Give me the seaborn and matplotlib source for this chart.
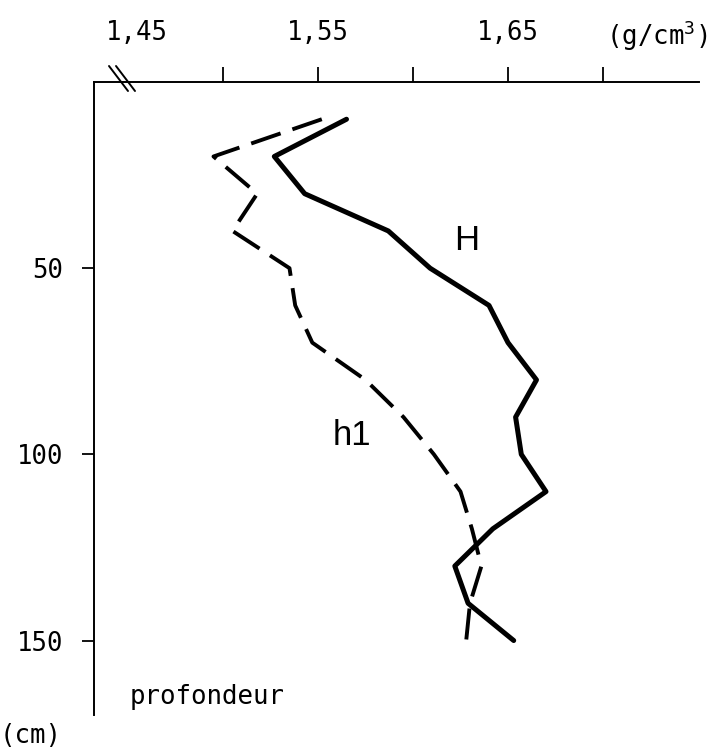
import matplotlib
matplotlib.use("Agg")
import matplotlib.pyplot as plt
import seaborn as sns
import pandas as pd

# Data (depth in cm, bulk density in g/cm3)
depth_H = [10, 20, 30, 40, 50, 60, 70, 80, 90, 100, 110, 120, 130, 140, 150]
dens_H = [1.565, 1.527, 1.543, 1.587, 1.609, 1.640, 1.650, 1.665, 1.654, 1.657, 1.670, 1.642, 1.622, 1.629, 1.653]

depth_h1 = [10, 20, 30, 40, 50, 60, 70, 80, 90, 100, 110, 120, 130, 140, 150]
dens_h1 = [1.552, 1.495, 1.518, 1.505, 1.535, 1.538, 1.547, 1.575, 1.595, 1.611, 1.625, 1.631, 1.636, 1.630, 1.628]

xtick_vals = [1.4545, 1.50, 1.55, 1.60, 1.65, 1.70]
xtick_labels = ["1,45", "", "1,55", "", "1,65", ""]
ytick_vals = [50, 100, 150]
ytick_labels = ["50", "100", "150"]

sns.set_theme(style="white")
plt.rcParams["font.family"] = ["DejaVu Sans Mono", "DejaVu Sans"]
plt.rcParams["mathtext.default"] = "regular"

fig = plt.figure(figsize=(7.23, 7.52), dpi=100)
ax = fig.add_axes([94 / 723, 1 - 715 / 752, (699 - 94) / 723, (715 - 82) / 752])

dfH = pd.DataFrame({"dens": dens_H, "depth": depth_H})
dfh = pd.DataFrame({"dens": dens_h1, "depth": depth_h1})

sns.lineplot(data=dfH, x="dens", y="depth", sort=False, estimator=None,
             color="black", linewidth=3.6, ax=ax)
sns.lineplot(data=dfh, x="dens", y="depth", sort=False, estimator=None,
             color="black", linewidth=2.8, linestyle=(0, (8, 3.2)), ax=ax)

ax.set_xlim(1.55 + (94 - 318) / 1900, 1.55 + (699 - 318) / 1900)
ax.set_ylim(170, 0)

ax.xaxis.tick_top()
ax.set_xticks(xtick_vals)
ax.set_xticklabels(xtick_labels)
ax.set_yticks(ytick_vals)
ax.set_yticklabels(ytick_labels)
ax.tick_params(axis="x", direction="out", length=11, width=1.3, pad=15,
               labelsize=18.5, colors="black", top=True, bottom=False)
ax.tick_params(axis="y", direction="out", length=9, width=1.3, pad=13,
               labelsize=18.5, colors="black", left=True)
ax.xaxis.get_major_ticks()[0].tick2line.set_visible(False)
ax.set_xlabel("")
ax.set_ylabel("")

for s in ["right", "bottom"]:
    ax.spines[s].set_visible(False)
for s in ["top", "left"]:
    ax.spines[s].set_color("black")
    ax.spines[s].set_linewidth(1.4)

# axis break marks
for x0 in [109, 116]:
    fig.add_artist(plt.Line2D([x0 / 723, (x0 + 19) / 723],
                              [1 - 66 / 752, 1 - 91 / 752],
                              color="black", linewidth=1.4))

ax.text(1.6285, 42.5, "H", fontsize=25, family=["Liberation Sans", "DejaVu Sans"],
        ha="center", va="center", color="black")
ax.text(1.568, 95, "h1", fontsize=25, family=["Liberation Sans", "DejaVu Sans"],
        ha="center", va="center", color="black")

fig.text(606 / 723, 1 - 36 / 752, "(g/cm$^{3}$)", fontsize=18.5, ha="left", va="center",
         color="black")
fig.text(130 / 723, 1 - 697 / 752, "profondeur", fontsize=18.5, ha="left", va="center",
         color="black")
fig.text(0 / 723, 1 - 736 / 752, "(cm)", fontsize=18.5, ha="left", va="center",
         color="black")

fig.savefig("out.png", dpi=100)
